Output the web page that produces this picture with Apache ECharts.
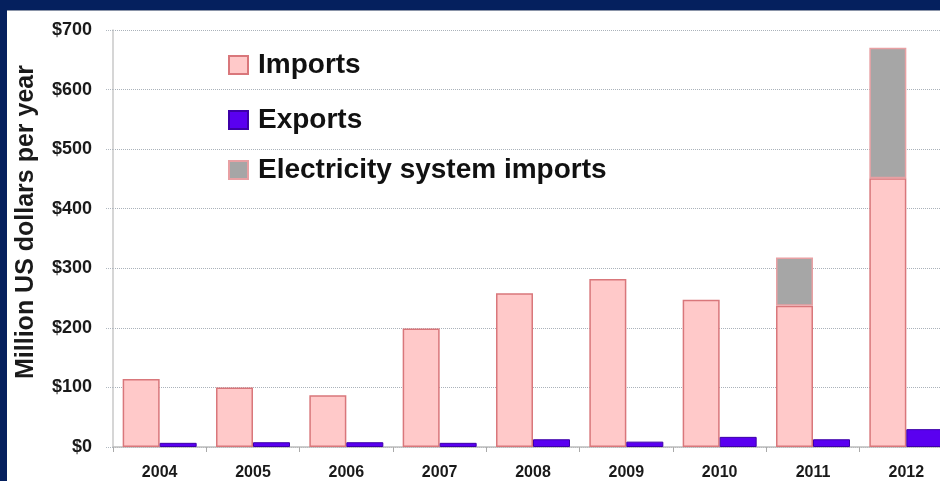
<!DOCTYPE html>
<html>
<head>
<meta charset="utf-8">
<script src="https://cdn.jsdelivr.net/npm/echarts@6/dist/echarts.min.js"></script>
<style>
html,body{margin:0;padding:0;background:#fff;overflow:hidden;width:940px;height:481px;}
#chart{width:980px;height:481px;}
</style>
</head>
<body>
<div id="chart"></div>
<script>
var years = ['2004','2005','2006','2007','2008','2009','2010','2011','2012'];
var imports = [114, 100, 87, 199, 258, 282, 247, 237, 451];
var exports = [7, 8, 8, 7, 13, 9, 17, 13, 30];
var elecImports = [null, null, null, null, null, null, null, 81, 219];
var yTicks = [0, 100, 200, 300, 400, 500, 600, 700];
var yTitle = 'Million US dollars per year';

var chart = echarts.init(document.getElementById('chart'), null, {renderer: 'canvas'});
var fontFam = '"Liberation Sans", Arial, sans-serif';
var pinkBorder = '#d9777b';

function legendAt(name, top) {
  return {
    data: [name],
    left: 223,
    top: top,
    orient: 'vertical',
    icon: 'rect',
    itemWidth: 19,
    itemHeight: 18,
    selectedMode: false,
    textStyle: {
      fontFamily: fontFam,
      fontWeight: 'bold',
      fontSize: 28,
      color: '#111',
      lineHeight: 30,
      padding: [0, 0, 0, 5]
    }
  };
}

chart.setOption({
  animation: false,
  backgroundColor: '#ffffff',
  graphic: [
    {type: 'rect', shape: {x: 0, y: 0, width: 980, height: 10}, style: {fill: '#05205e'}, z: 100},
    {type: 'rect', shape: {x: 0, y: 0, width: 7, height: 481}, style: {fill: '#05205e'}, z: 100},
    {type: 'rect', shape: {x: 7, y: 10, width: 973, height: 1}, style: {fill: '#8a94a8'}, z: 100},
    {
      type: 'text', x: 26, y: 222, rotation: Math.PI / 2, z: 100,
      style: {
        text: yTitle, fill: '#1a1a1a',
        font: 'bold 25px "Liberation Sans", Arial, sans-serif',
        textAlign: 'center', textVerticalAlign: 'middle'
      }
    }
  ],
  legend: [
    legendAt('Imports', 45),
    legendAt('Exports', 100),
    legendAt('Electricity system imports', 150)
  ],
  grid: {left: 113, top: 30, width: 840, bottom: 34, containLabel: false},
  xAxis: {
    type: 'category',
    data: years,
    boundaryGap: true,
    axisLine: {lineStyle: {color: '#bdbdbd', width: 1.5}},
    axisTick: {show: true, length: 5, lineStyle: {color: '#aaaaaa'}},
    axisLabel: {
      fontFamily: fontFam, fontWeight: 'bold', fontSize: 16, color: '#1a1a1a', margin: 18
    }
  },
  yAxis: {
    type: 'value',
    min: 0,
    max: 700,
    interval: 100,
    axisLine: {show: true, lineStyle: {color: '#c8c8c8', width: 1.5}},
    axisTick: {show: true, length: 7, lineStyle: {color: '#b0b8c0', type: 'dotted'}},
    axisLabel: {
      fontFamily: fontFam, fontWeight: 'bold', fontSize: 18, color: '#1a1a1a', margin: 21,
      formatter: function (v) { return yTicks.indexOf(v) >= 0 ? '$' + v : ''; }
    },
    splitLine: {show: true, lineStyle: {color: '#aab2ba', type: 'dotted', width: 1}}
  },
  series: [
    {
      name: 'Imports', type: 'bar', stack: 'imp', data: imports,
      barWidth: 37, barGap: '0%',
      itemStyle: {color: '#ffc9c9', borderColor: pinkBorder, borderWidth: 1.5}
    },
    {
      name: 'Exports', type: 'bar', data: exports,
      barWidth: 37, barGap: '0%',
      itemStyle: {color: '#5a00f0', borderColor: '#3d00a8', borderWidth: 1}
    },
    {
      name: 'Electricity system imports', type: 'bar', stack: 'imp', data: elecImports,
      barWidth: 37, barGap: '0%',
      itemStyle: {color: '#a6a6a6', borderColor: '#e8a0a3', borderWidth: 1.5}
    }
  ]
});
</script>
</body>
</html>
